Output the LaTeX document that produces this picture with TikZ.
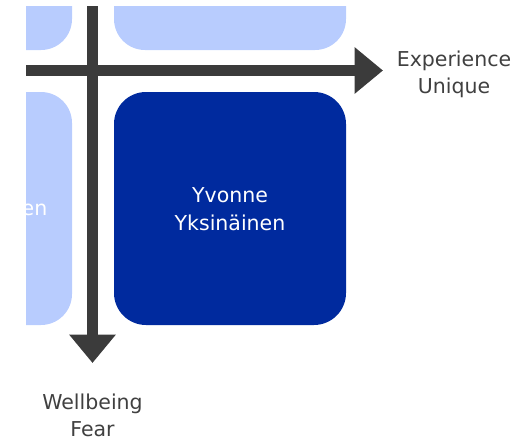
\documentclass[tikz,border=0pt]{standalone}
\usepackage{fontspec}
\setmainfont{DejaVu Sans}
\usetikzlibrary{arrows.meta}
\definecolor{lightbox}{HTML}{B8CCFE}
\definecolor{darkbox}{HTML}{002A9E}
\definecolor{axisgrey}{HTML}{3B3B3B}
\definecolor{labelgrey}{HTML}{404040}
\tikzset{
  lbox/.style={fill=lightbox, draw=none, rounded corners=31pt},
  dbox/.style={fill=darkbox, draw=none, rounded corners=32pt},
  axisline/.style={draw=axisgrey, line width=11.5pt, -{Triangle[width=45pt,length=28.5pt]}},
  lbl/.style={text=labelgrey, align=center, inner sep=0pt, font=\fontsize{20.5}{27}\selectfont},
  boxtxt/.style={text=white, align=center, inner sep=0pt, font=\fontsize{20.5}{28}\selectfont}
}
\begin{document}
\begin{tikzpicture}[x=1pt,y=-1pt]
\useasboundingbox (0,0) rectangle (528,442);
\begin{scope}
\clip (26,6) rectangle (528,442);
% light boxes
\path[lbox] (-200,-200) rectangle (72,50);
\path[lbox] (114,-200) rectangle (346,50);
\path[lbox] (-200,92) rectangle (72,325);
% dark box
\path[dbox] (114,92) rectangle (346,325);
\node[boxtxt] (yv) at (230,209.5) {Yvonne\\Yksinäinen};
\node[boxtxt, anchor=base east] (en) at (47.5,215) {en};
% axes
\coordinate (hs) at (0,70.5);
\coordinate (he) at (383,70.5);
\coordinate (vs) at (92.5,0);
\coordinate (ve) at (92.5,363);
\draw[axisline] (hs) -- (he);
\draw[axisline] (vs) -- (ve);
\end{scope}
\node[lbl] (exp) at (454,74) {Experience\\Unique};
\node[lbl] (well) at (92.5,415.5) {Wellbeing\\Fear};
\end{tikzpicture}
\end{document}
